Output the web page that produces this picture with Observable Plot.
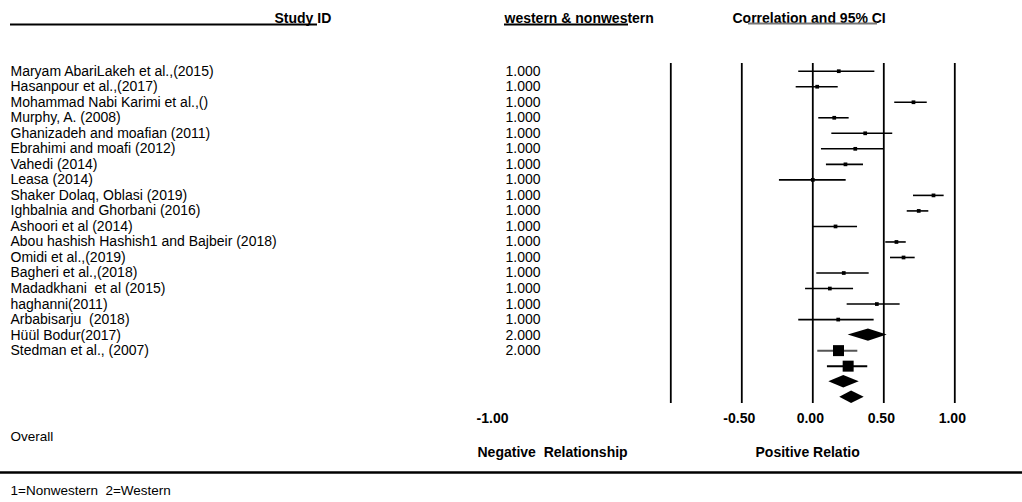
<!DOCTYPE html>
<html>
<head>
<meta charset="utf-8">
<script src="https://cdn.jsdelivr.net/npm/d3@7"></script>
<script src="https://cdn.jsdelivr.net/npm/@observablehq/plot@0.6"></script>
<style>
  html, body { margin: 0; padding: 0; background: #fff; }
  #chart { width: 1022px; height: 502px; }
  #chart svg { font-family: "Liberation Sans", Arial, sans-serif; color: #000; background: #fff; }
</style>
</head>
<body>
<div id="chart"></div>
<script>
// ---- Data ----
const studies = [
  "Maryam AbariLakeh et al.,(2015)",
  "Hasanpour et al.,(2017)",
  "Mohammad Nabi Karimi et al.,()",
  "Murphy, A. (2008)",
  "Ghanizadeh and moafian (2011)",
  "Ebrahimi and moafi (2012)",
  "Vahedi (2014)",
  "Leasa (2014)",
  "Shaker Dolaq, Oblasi (2019)",
  "Ighbalnia and Ghorbani (2016)",
  "Ashoori et al (2014)",
  "Abou hashish Hashish1 and Bajbeir (2018)",
  "Omidi et al.,(2019)",
  "Bagheri et al.,(2018)",
  "Madadkhani  et al (2015)",
  "haghanni(2011)",
  "Arbabisarju  (2018)",
  "Hüül Bodur(2017)",
  "Stedman et al., (2007)"
];
const groupCode = [1,1,1,1,1,1,1,1,1,1,1,1,1,1,1,1,1,2,2];

// individual study correlations (rows 1..17)
const studyEst = [0.183, 0.031, 0.709, 0.151, 0.369, 0.299, 0.230, 0.000, 0.850, 0.746, 0.160, 0.589, 0.639, 0.218, 0.120, 0.451, 0.179];
const studyLow = [-0.099, -0.117, 0.577, 0.042, 0.134, 0.061, 0.096, -0.235, 0.709, 0.665, 0.000, 0.514, 0.547, 0.028, -0.051, 0.242, -0.099];
const studyHigh = [0.437, 0.179, 0.806, 0.256, 0.563, 0.505, 0.357, 0.235, 0.925, 0.817, 0.315, 0.658, 0.721, 0.397, 0.287, 0.615, 0.432];

// summary elements (rows 18..22)
const summaryKind = ["diamond", "square", "square", "diamond", "diamond"];
const summaryEst = [0.392, 0.181, 0.249, 0.218, 0.273];
const summaryLow = [0.249, 0.035, 0.103, 0.113, 0.190];
const summaryHigh = [0.524, 0.317, 0.387, 0.327, 0.362];

const gridValues = [-1, -0.5, 0, 0.5, 1];
const tickValues = [-0.5, 0, 0.5, 1];
const strayTickLabel = "-1.00";

const headers = ["Study ID", "western & nonwestern", "Correlation and 95% CI"];
const footerLabels = ["Negative  Relationship", "Positive Relatio"];
const overallLabel = "Overall";
const noteLabel = "1=Nonwestern  2=Western";

// ---- Build tables ----
const labelRows = studies.map((s, i) => ({row: i + 1, study: s, group: groupCode[i]}));
const studyRows = studyEst.map((e, i) => ({row: i + 1, est: e, lo: studyLow[i], hi: studyHigh[i]}));
const summaryRows = summaryEst.map((e, i) => ({row: studyEst.length + 1 + i, kind: summaryKind[i], est: e, lo: summaryLow[i], hi: summaryHigh[i], idx: i}));
const squares = summaryRows.filter(d => d.kind === "square");
const diamonds = summaryRows.filter(d => d.kind === "diamond");
const halfH = 0.4;
const diamondPts = diamonds.flatMap(d => [
  {z: d.idx, y: d.row - halfH, x1: d.est, x2: d.est},
  {z: d.idx, y: d.row, x1: d.lo, x2: d.hi},
  {z: d.idx, y: d.row + halfH, x1: d.est, x2: d.est}
]);

const W = 1022, H = 502, frameBottom = 403;
const font = 14;
const fmt2 = d => d.toFixed(2);

const headerMarks = [
  Plot.text([headers[0]], {text: d => d, frameAnchor: "top-left", dx: 274, dy: 18, textAnchor: "start", lineAnchor: "middle", fontWeight: "bold", fontSize: font}),
  Plot.text([headers[1]], {text: d => d, frameAnchor: "top-left", dx: 504, dy: 18, textAnchor: "start", lineAnchor: "middle", fontWeight: "bold", fontSize: font}),
  Plot.text([headers[2]], {text: d => d, frameAnchor: "top-left", dx: 732, dy: 18, textAnchor: "start", lineAnchor: "middle", fontWeight: "bold", fontSize: font}),
  // underlines
  Plot.ruleY([0], {y: null, dy: 24 - frameBottom / 2, insetLeft: 10, insetRight: W - 317, stroke: "#000", strokeWidth: 2}),
  Plot.ruleY([0], {y: null, dy: 24 - frameBottom / 2, insetLeft: 504, insetRight: W - 628, stroke: "#000", strokeWidth: 2}),
  Plot.ruleY([0], {y: null, dy: 23 - frameBottom / 2, insetLeft: 748, insetRight: W - 877, stroke: "#777", strokeWidth: 2})
];

const chart = Plot.plot({
  width: W,
  height: H,
  marginTop: 0,
  marginLeft: 0,
  marginRight: 0,
  marginBottom: H - frameBottom,
  x: {domain: [-1, 1], range: [670.3, 954.3], axis: null},
  y: {domain: [1, 22], range: [70.7, 396.7], axis: null},
  style: {fontFamily: "Liberation Sans, Arial, sans-serif", fontSize: font + "px", color: "#000", background: "#fff"},
  marks: [
    ...headerMarks,
    // study labels and group codes
    Plot.text(labelRows, {y: "row", text: "study", frameAnchor: "left", dx: 10, textAnchor: "start", fontSize: font}),
    Plot.text(labelRows, {y: "row", text: d => d3.format(".3f")(d.group), frameAnchor: "left", dx: 505, textAnchor: "start", fontSize: font}),
    // vertical reference lines
    Plot.ruleX(gridValues, {insetTop: 63, stroke: "#000", strokeWidth: 1.8}),
    // study CIs
    Plot.ruleY(studyRows, {y: "row", x1: "lo", x2: "hi", stroke: "#000", strokeWidth: 1.6}),
    Plot.dot(studyRows, {y: "row", x: "est", symbol: "square", r: 2.1, fill: "#000", stroke: null}),
    // summary squares
    Plot.ruleY(squares, {y: "row", x1: "lo", x2: "hi", stroke: (d, i) => i === 0 ? "#555" : "#000", strokeWidth: 2}),
    Plot.dot(squares, {y: "row", x: "est", symbol: "square", r: 6.2, fill: "#000", stroke: null}),
    // summary diamonds
    Plot.areaX(diamondPts, {y: "y", x1: "x1", x2: "x2", z: "z", fill: "#000", curve: "linear"}),
    // x axis
    Plot.axisX(tickValues, {anchor: "bottom", tickSize: 0, tickPadding: 10, tickFormat: fmt2, fontSize: font, fontWeight: "bold", dx: -2.5, label: null}),
    Plot.text([strayTickLabel], {text: d => d, frameAnchor: "top-left", dx: 492, dy: 418, textAnchor: "middle", lineAnchor: "middle", fontWeight: "bold", fontSize: font}),
    // footer
    Plot.text([overallLabel], {text: d => d, frameAnchor: "top-left", dx: 10, dy: 436, textAnchor: "start", lineAnchor: "middle", fontSize: 13.5}),
    Plot.text([footerLabels[0]], {text: d => d, frameAnchor: "top-left", dx: 477, dy: 452, textAnchor: "start", lineAnchor: "middle", fontWeight: "bold", fontSize: font}),
    Plot.text([footerLabels[1]], {text: d => d, frameAnchor: "top-left", dx: 755, dy: 452, textAnchor: "start", lineAnchor: "middle", fontWeight: "bold", fontSize: font}),
    Plot.ruleY([0], {y: null, dy: 472 - frameBottom / 2, insetLeft: 0, insetRight: 0, stroke: "#000", strokeWidth: 2.6}),
    Plot.text([noteLabel], {text: d => d, frameAnchor: "top-left", dx: 10, dy: 490, textAnchor: "start", lineAnchor: "middle", fontSize: 13.5})
  ]
});
document.getElementById("chart").appendChild(chart);
</script>
</body>
</html>
